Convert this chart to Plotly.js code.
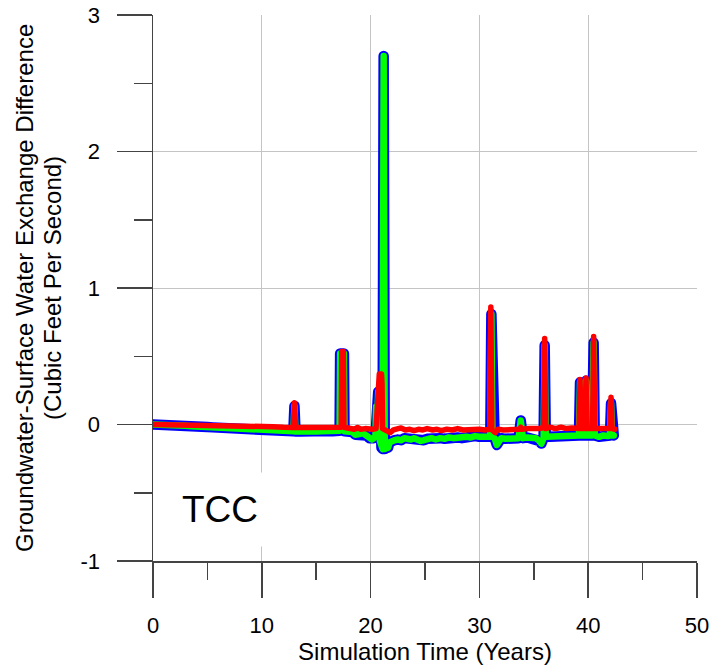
<!DOCTYPE html>
<html>
<head>
<meta charset="utf-8">
<script src="https://cdn.plot.ly/plotly-3.0.1.min.js"></script>
<style>
  html, body { margin: 0; padding: 0; background: #fff; }
  #chart { width: 713px; height: 671px; }
  .scatterlayer .js-line { stroke-linejoin: round; stroke-linecap: round; }
</style>
</head>
<body>
<div id="chart"></div>
<script>
// exchange difference, run A (drawn blue outline + green core)
const yearsA = [
  0, 0.5, 1, 1.5, 2, 2.5, 3, 3.5, 4, 4.5, 5, 5.5, 6, 6.5, 7, 7.5, 8, 8.5, 9, 9.5,
  10, 10.5, 11, 11.5, 12, 12.5, 12.9, 13.0, 13.1, 13.5, 14, 14.5, 15, 15.5, 16, 16.5,
  17, 17.15, 17.2, 17.55, 17.6, 18, 18.3, 18.6, 19, 19.3, 19.6, 19.9, 20.1, 20.3,
  20.45, 20.5, 20.65, 20.7, 20.8, 20.85, 21.0, 21.1, 21.2, 21.3, 21.45, 21.6, 21.75, 21.9,
  22.2, 22.5, 22.8, 23.1, 23.4, 23.7, 24.0, 24.3, 24.6, 24.9, 25.2, 25.6, 26.0, 26.4,
  26.8, 27.2, 27.6, 28.0, 28.4, 28.8, 29.2, 29.6, 30.0, 30.4, 30.8, 31.0, 31.1, 31.2,
  31.4, 31.6, 31.75, 32.0, 32.4, 32.8, 33.2, 33.6, 33.8, 34.0, 34.4, 34.8, 35.2, 35.5,
  35.7, 35.9, 36.0, 36.1, 36.5, 37.0, 37.5, 38.0, 38.5, 39.0, 39.15, 39.25, 39.35, 39.65,
  39.8, 39.9, 40.35, 40.5, 40.6, 41.0, 41.4, 41.8, 42.0, 42.1, 42.2, 42.35
];
const diffA = [
  0, 0, -0.002, -0.004, -0.006, -0.008, -0.01, -0.012, -0.014, -0.016, -0.019, -0.021, -0.022, -0.024, -0.026, -0.028, -0.03, -0.033, -0.035, -0.037,
  -0.04, -0.045, -0.048, -0.05, -0.052, -0.05, -0.05, 0.135, -0.052, -0.052, -0.055, -0.05, -0.052, -0.05, -0.048, -0.05,
  -0.046, -0.046, 0.52, 0.52, -0.05, -0.05, -0.055, -0.075, -0.07, -0.065, -0.08, -0.1, -0.11, -0.1,
  -0.08, 0.13, 0.13, 0.24, 0.24, -0.12, -0.17, -0.18, 2.70, -0.18, -0.16, -0.17, -0.13, -0.12,
  -0.115, -0.11, -0.115, -0.1, -0.105, -0.11, -0.1, -0.11, -0.12, -0.115, -0.105, -0.1, -0.11, -0.1,
  -0.105, -0.095, -0.1, -0.095, -0.1, -0.09, -0.095, -0.085, -0.09, -0.085, -0.09, -0.09, 0.81, -0.09,
  -0.1, -0.15, -0.12, -0.1, -0.105, -0.1, -0.095, -0.1, 0.03, -0.1, -0.095, -0.1, -0.1, -0.12,
  -0.14, -0.1, 0.58, -0.09, -0.09, -0.085, -0.09, -0.08, -0.085, -0.08, -0.08, 0.31, -0.08, -0.08,
  0.32, -0.08, -0.08, 0.60, -0.08, -0.09, -0.08, -0.085, -0.08, 0.155, -0.08, -0.08
];

// exchange difference, run B (red)
const yearsB = [
  0, 1, 2, 3, 4, 5, 6, 6.8, 7.2, 8, 9, 10, 11, 12, 12.9, 13.0, 13.1, 14, 15, 16,
  17, 17.3, 17.35, 17.5, 17.55, 18.2, 18.5, 18.8, 19.1, 19.5, 19.8, 20.2, 20.5, 20.6,
  20.7, 20.8, 21.0, 21.05, 21.1, 21.3, 21.55, 21.8, 22.1, 22.5, 22.8, 23.2, 23.6, 24.0,
  24.4, 24.8, 25.2, 25.7, 26.1, 26.5, 27.0, 27.5, 28.0, 28.5, 29.0, 29.5, 30.0, 30.5,
  30.95, 31.05, 31.15, 31.45, 31.7, 32.2, 32.7, 33.2, 33.7, 33.8, 33.9, 34.5, 35.0, 35.5,
  35.8, 35.9, 36.0, 36.1, 36.5, 37.0, 37.5, 38.0, 38.5, 39.15, 39.25, 39.35, 39.7, 39.8,
  39.9, 40.4, 40.5, 40.6, 41.0, 41.5, 42.0, 42.1, 42.2, 42.45
];
const diffB = [
  0, -0.001, -0.002, -0.004, -0.005, -0.006, -0.007, -0.003, -0.008, -0.01, -0.011, -0.012, -0.016, -0.02, -0.022, 0.16, -0.022, -0.022, -0.022, -0.02,
  -0.02, -0.02, 0.535, 0.535, -0.02, -0.03, -0.035, -0.022, -0.035, -0.03, -0.035, -0.035, -0.03, 0.16,
  0.17, 0.37, 0.37, 0.3, -0.03, -0.04, -0.05, -0.06, -0.04, -0.03, -0.025, -0.04, -0.035, -0.045,
  -0.035, -0.04, -0.03, -0.04, -0.035, -0.045, -0.035, -0.04, -0.03, -0.04, -0.035, -0.04, -0.035, -0.04,
  -0.035, 0.86, -0.04, -0.06, -0.035, -0.04, -0.035, -0.03, -0.035, -0.02, -0.035, -0.03, -0.035, -0.03,
  -0.025, 0.0, 0.63, -0.03, -0.02, -0.03, -0.02, -0.03, -0.025, -0.03, 0.33, -0.03, -0.03, 0.34,
  -0.03, -0.03, 0.645, -0.03, -0.03, -0.025, -0.03, 0.2, -0.03, -0.035
];

const yTitleLines = ["Groundwater-Surface Water Exchange Difference", "(Cubic Feet Per Second)"];
const yTickVals = [-1, 0, 1, 2, 3];
const xTickVals = [0, 10, 20, 30, 40, 50];

const axisColor = "#444";
const gridColor = "#c4c4c4";
const font = "Arial, 'Liberation Sans', sans-serif";

const traces = [
  {
    x: yearsA, y: diffA, type: "scatter", mode: "lines",
    line: { color: "#0000ff", width: 10.5 }, hoverinfo: "skip",
  },
  {
    x: yearsA, y: diffA, type: "scatter", mode: "lines",
    line: { color: "#00ff00", width: 6.5 }, hoverinfo: "skip",
  },
  {
    x: yearsB, y: diffB, type: "scatter", mode: "lines",
    line: { color: "#ff0000", width: 5.5 }, hoverinfo: "skip",
  },
];

// y axis title as two rotated lines, placed by hand
const titleShifts = [-129, -101];
const yTitleNotes = yTitleLines.map((line, i) => ({
  x: 0, y: 0.5, xref: "paper", yref: "paper",
  xanchor: "center", yanchor: "middle",
  xshift: titleShifts[i],
  textangle: -90,
  text: line,
  showarrow: false,
  font: { size: 24, color: "#000" },
}));

const layout = {
  width: 713,
  height: 671,
  showlegend: false,
  paper_bgcolor: "#fff",
  plot_bgcolor: "#fff",
  font: { family: font, color: "#000" },
  margin: { l: 153, r: 16, t: 15, b: 110 },
  xaxis: {
    range: [0, 50],
    tickvals: xTickVals,
    ticktext: xTickVals.map(String),
    ticks: "outside",
    ticklen: 35,
    tickwidth: 1.5,
    tickcolor: axisColor,
    ticklabelstandoff: 9,
    tickfont: { size: 22 },
    minor: { dtick: 5, ticks: "outside", ticklen: 17, tickwidth: 1.5, tickcolor: axisColor, showgrid: false },
    showline: true,
    linecolor: axisColor,
    linewidth: 1.5,
    showgrid: true,
    gridcolor: gridColor,
    gridwidth: 1,
    zeroline: false,
    title: { text: "Simulation Time (Years)", font: { size: 24 }, standoff: 4 },
    automargin: false,
  },
  yaxis: {
    range: [-1, 3],
    tickvals: yTickVals,
    ticktext: yTickVals.map(String),
    ticks: "outside",
    ticklen: 35,
    tickwidth: 1.5,
    tickcolor: axisColor,
    ticklabelstandoff: 12,
    tickfont: { size: 22 },
    minor: { dtick: 0.5, ticks: "outside", ticklen: 18, tickwidth: 1.5, tickcolor: axisColor, showgrid: false },
    showline: true,
    linecolor: axisColor,
    linewidth: 1.5,
    showgrid: true,
    gridcolor: gridColor,
    gridwidth: 1,
    zeroline: false,
    automargin: false,
  },
  annotations: [
    ...yTitleNotes,
    {
      x: 6.2, y: -0.62, xref: "x", yref: "y",
      text: "TCC", showarrow: false,
      font: { size: 37, color: "#000" },
      bgcolor: "#fff",
      borderpad: 16,
    },
  ],
};

Plotly.newPlot("chart", traces, layout, { displayModeBar: false, staticPlot: true });
</script>
</body>
</html>
